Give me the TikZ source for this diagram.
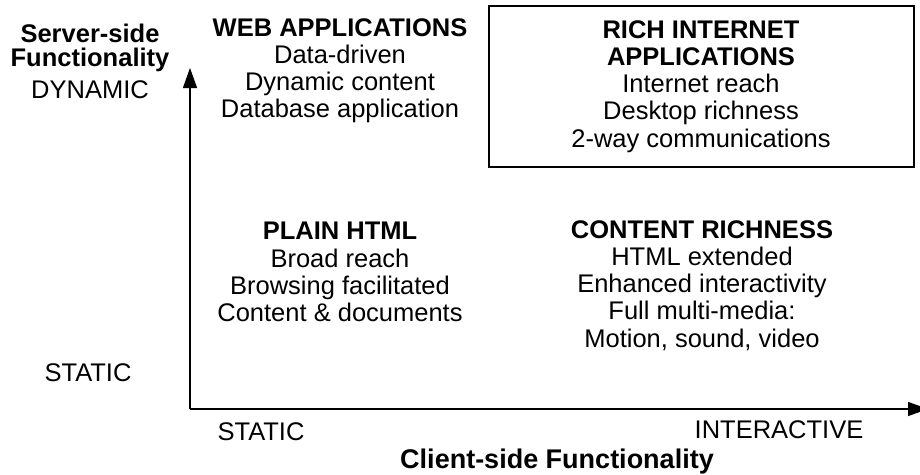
\documentclass[tikz,border=0pt]{standalone}
\usepackage{fontspec}
\setmainfont{Liberation Sans}
\usetikzlibrary{arrows.meta}
\begin{document}
\begin{tikzpicture}[x=1pt,y=-1pt,
  lbl/.style={align=center,inner sep=0pt,anchor=north,font=\fontsize{25.5}{27.3}\selectfont},
  axis/.style={line width=1.3pt,-{Triangle[length=20pt,width=14pt]}},
  frame/.style={draw,line width=1.5pt,inner sep=0pt,minimum width=425pt,minimum height=161pt}
]
\useasboundingbox (0,0) rectangle (920,474);
\node[frame] (riabox) at (701.5,86.5) {};
\node[lbl] (web) at (340,18) {\textbf{WEB APPLICATIONS}\\Data-driven\\Dynamic content\\Database application};
\node[lbl] (ria) at (701,20) {\textbf{RICH INTERNET}\\\textbf{APPLICATIONS}\\Internet reach\\Desktop richness\\2-way communications};
\node[lbl] (plain) at (340,222) {\textbf{PLAIN HTML}\\Broad reach\\Browsing facilitated\\Content \& documents};
\node[lbl] (rich) at (702,220) {\textbf{CONTENT RICHNESS}\\HTML extended\\Enhanced interactivity\\Full multi-media:\\Motion, sound, video};
\node[lbl] (server) at (90,24) {\textbf{Server-side}\\[-3pt]\textbf{Functionality}};
\node[lbl] (dyn) at (90,80) {DYNAMIC};
\node[lbl] (ystatic) at (88,363) {STATIC};
\node[lbl] (xstatic) at (261,422) {STATIC};
\node[lbl] (xinter) at (779,420) {INTERACTIVE};
\node[lbl,font=\fontsize{27}{29}\selectfont] (xlabel) at (557,449) {\textbf{Client-side Functionality}};
\coordinate (o) at (190,409);
\coordinate (ytip) at (190,68);
\coordinate (xtip) at (928,409);
\draw[axis] (o) -- (ytip);
\draw[axis] (o) -- (xtip);
\end{tikzpicture}
\end{document}
